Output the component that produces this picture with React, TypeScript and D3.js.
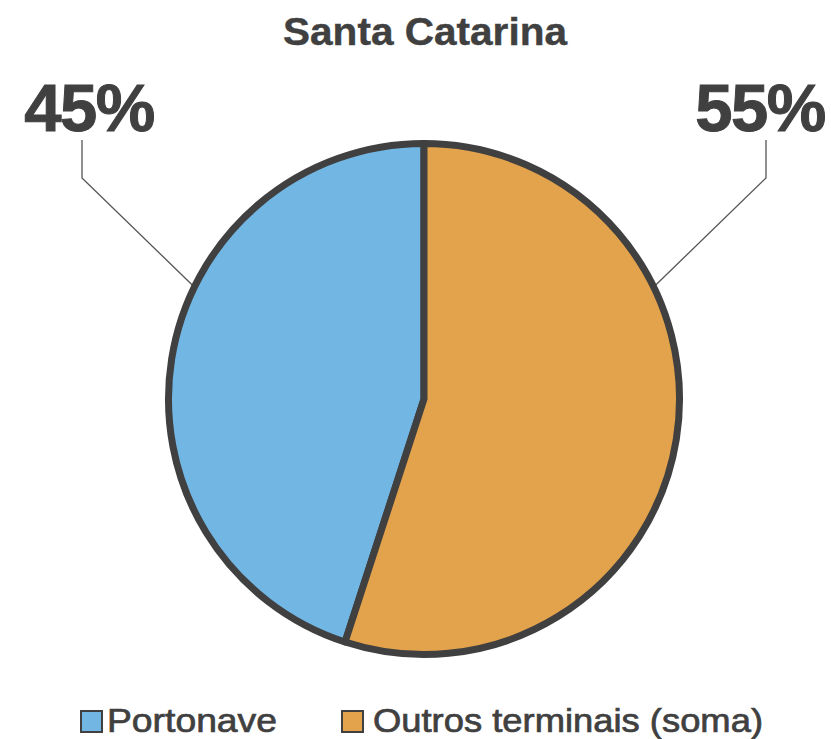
import React from "react";
import * as d3 from "d3";

const title = "Santa Catarina";
const categories = ["Portonave", "Outros terminais (soma)"];
const values = [45, 55];
const colors = ["#72b6e4", "#e3a24c"];
const labelTexts = ["45%", "55%"];

const W = 831;
const H = 739;
const cx = 424;
const cy = 399;
const R = 255.5;
const FONT = "'Liberation Sans', Arial, Helvetica, sans-serif";
const TEXT = "#404040";

export default function App() {
  const total = d3.sum(values);
  const outrosShare = values[1] / total;
  const pie = d3
    .pie<number>()
    .sort(null)
    .value((d) => d)
    .startAngle(outrosShare * 2 * Math.PI)
    .endAngle(outrosShare * 2 * Math.PI + 2 * Math.PI);
  const arcs = pie(values);
  const arc = d3.arc<d3.PieArcDatum<number>>().innerRadius(0).outerRadius(R);

  const leaderAngle = (64 * Math.PI) / 180;
  const leaders = [-1, 1].map((side) => {
    const ex = cx + side * R * Math.sin(leaderAngle) - side * 1;
    const ey = cy - R * Math.cos(leaderAngle) + 1;
    const kx = cx + side * 342;
    return { ex, ey, kx, ky: 178, ty: 140 };
  });

  const legendItems = [
    { x: 81, tx: 107, len: 170 },
    { x: 342, tx: 373, len: 390 },
  ];

  return (
    <svg width={W} height={H} style={{ display: "block", position: "absolute", left: 0, top: 0 }}>
      <rect width={W} height={H} fill="#fff" />
      <text x={425} y={45} textAnchor="middle" fontFamily={FONT} fontWeight="bold" fontSize={39} fill={TEXT} stroke={TEXT} strokeWidth={0.4} textLength={284} lengthAdjust="spacingAndGlyphs">
        {title}
      </text>
      {leaders.map((l, i) => (
        <polyline
          key={i}
          points={`${l.kx},${l.ty} ${l.kx},${l.ky} ${l.ex},${l.ey}`}
          fill="none"
          stroke="#555"
          strokeWidth={1.3}
        />
      ))}
      <g transform={`translate(${cx},${cy})`}>
        {arcs.map((a, i) => (
          <path key={i} d={arc(a) || ""} fill={colors[i]} stroke="#404040" strokeWidth={7} strokeLinejoin="round" />
        ))}
      </g>
      {labelTexts.map((t, i) => (
        <text
          key={i}
          x={i === 0 ? 89 : 760}
          y={131}
          textAnchor="middle"
          fontFamily={FONT}
          fontWeight="bold"
          fontSize={67}
          fill={TEXT}
          stroke={TEXT}
          strokeWidth={1}
          letterSpacing={-1.5}
        >
          {t}
        </text>
      ))}
      {categories.map((c, i) => (
        <g key={c}>
          <rect x={legendItems[i].x} y={711} width={21} height={21} fill={colors[i]} stroke="#404040" strokeWidth={2} />
          <text
            x={legendItems[i].tx}
            y={732}
            fontFamily={FONT}
            fontSize={33}
            fill={TEXT}
            stroke={TEXT}
            strokeWidth={0.7}
            textLength={legendItems[i].len}
            lengthAdjust="spacingAndGlyphs"
          >
            {c}
          </text>
        </g>
      ))}
    </svg>
  );
}
